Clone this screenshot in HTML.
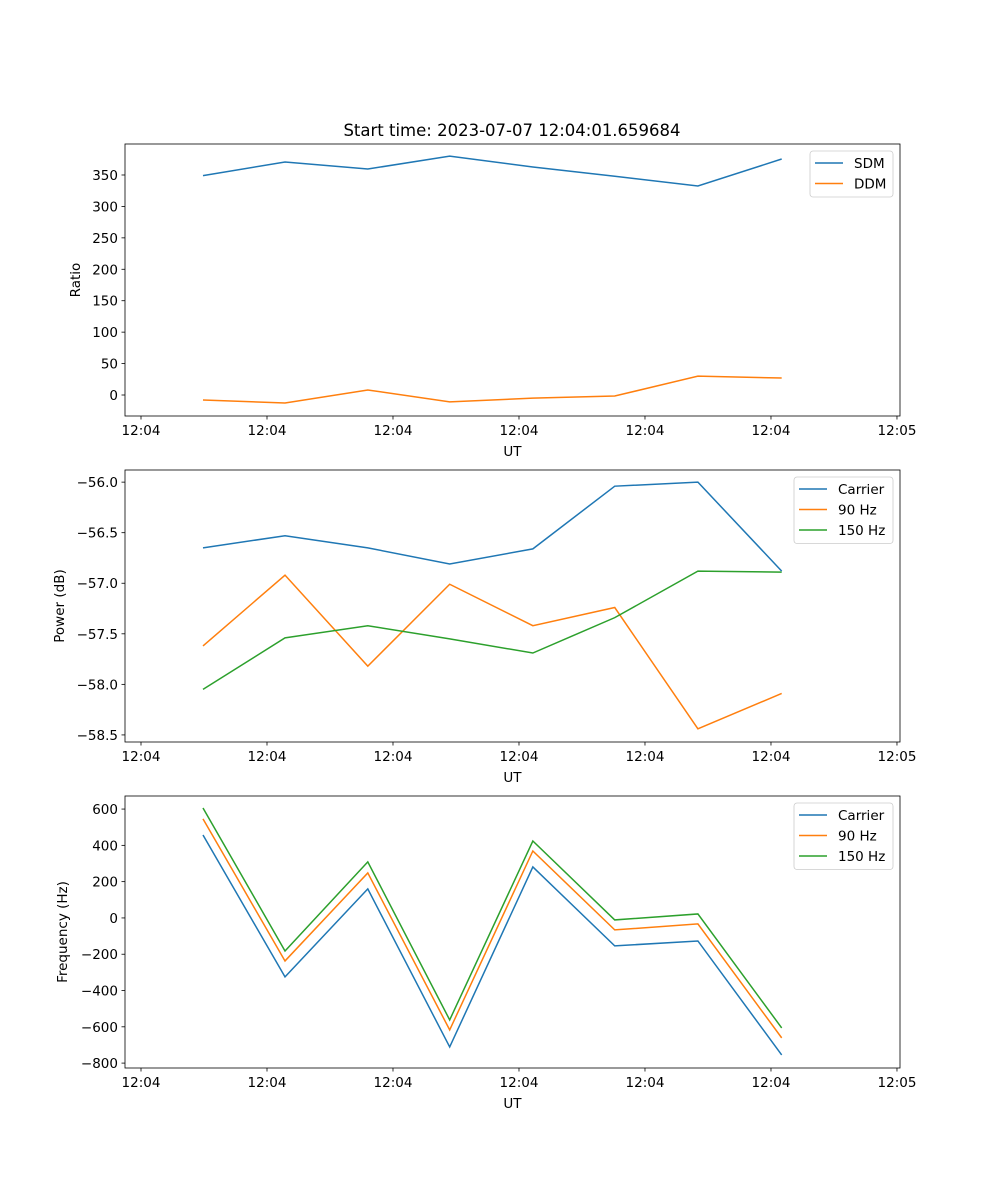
<!DOCTYPE html>
<html><head><meta charset="utf-8"><style>
body{margin:0;background:#fff;}
svg{display:block;font-family:"DejaVu Sans","Liberation Sans",sans-serif;}
</style></head><body>
<svg id="fig" width="1000" height="1200" viewBox="0 0 1000 1200"></svg>
<script>
const times = [4.92, 11.43, 18.0, 24.5, 31.1, 37.6, 44.2, 50.85];
const xTickVals = [0, 10, 20, 30, 40, 50, 60];
const xTickLabels = ["12:04","12:04","12:04","12:04","12:04","12:04","12:05"];
const sdm = [349, 370.7, 359.5, 380, 362.7, 348, 332.5, 375.4];
const ddm = [-8, -12.7, 8, -11, -5, -1.6, 30, 27];
const pCarrier = [-56.65, -56.53, -56.65, -56.81, -56.66, -56.04, -56.0, -56.88];
const p90 = [-57.62, -56.92, -57.82, -57.01, -57.42, -57.24, -58.44, -58.09];
const p150 = [-58.05, -57.54, -57.42, -57.55, -57.69, -57.34, -56.88, -56.89];
const fCarrier = [457, -325, 160, -711, 281, -154, -127, -755];
const f90 = [546, -237, 248, -617, 369, -66, -33, -661];
const f150 = [606, -182, 309, -562, 424, -11, 22, -606];
const ticks1 = [0, 50, 100, 150, 200, 250, 300, 350];
const ticks2 = [-58.5, -58.0, -57.5, -57.0, -56.5, -56.0];
const ticks3 = [-800, -600, -400, -200, 0, 200, 400, 600];

const NS = "http://www.w3.org/2000/svg";
const svg = document.getElementById('fig');
function el(tag, attrs, parent, text){
  const e = document.createElementNS(NS, tag);
  for (const k in attrs) e.setAttribute(k, attrs[k]);
  if (text !== undefined) e.textContent = text;
  (parent || svg).appendChild(e);
  return e;
}
const L = 125, R = 900, XMIN = -1.27, XMAX = 60.24;
const xs = v => L + (v - XMIN) / (XMAX - XMIN) * (R - L);
const C = ["#1f77b4", "#ff7f0e", "#2ca02c"];

function panel(name, top, ymin, ymax, yticks, fmt, ylabel, series, names, legendW, ylabelX){
  const bot = top + 272;
  const ys = v => bot - (v - ymin) / (ymax - ymin) * 272;
  const g = el('g', {});
  
  
  series.forEach((s, i) => {
    const p = el('polyline', {points: s.map((v, j) => xs(times[j]) + ',' + ys(v)).join(' '), fill: 'none', stroke: C[i], 'stroke-width': 1.5}, g);
    
    
  });
  const fr = el('rect', {x: L, y: top, width: R - L, height: 272, fill: 'none', stroke: '#000', 'stroke-width': 0.8}, g);
  
  
  xTickVals.forEach((t, i) => {
    const x = xs(t);
    el('line', {x1: x, x2: x, y1: bot, y2: bot + 3.5, stroke: '#000', 'stroke-width': 0.8}, g);
    const tx = el('text', {x: x, y: bot + 19, 'font-size': 13.5, 'text-anchor': 'middle'}, g, xTickLabels[i]);
    
    
  });
  yticks.forEach(t => {
    const y = ys(t);
    el('line', {x1: L, x2: L - 3.5, y1: y, y2: y, stroke: '#000', 'stroke-width': 0.8}, g);
    const tx = el('text', {x: L - 7, y: y + 5, 'font-size': 13.5, 'text-anchor': 'end'}, g, fmt(t));
    
    
  });
  const xl = el('text', {x: (L + R) / 2, y: bot + 40, 'font-size': 13.5, 'text-anchor': 'middle'}, g, 'UT');
  
  
  const yl = el('text', {x: ylabelX, y: top + 136, 'font-size': 13.5, 'text-anchor': 'middle', transform: `rotate(-90 ${ylabelX} ${top + 136})`}, g, ylabel);
  
  
  const lx = R - 7 - legendW, ly = top + 7;
  const lg = el('g', {}, g);
  
  
  el('rect', {x: lx, y: ly, width: legendW, height: 5 + names.length * 20.5, rx: 3, fill: '#fff', 'fill-opacity': 0.8, stroke: '#ccc', 'stroke-width': 0.8}, lg);
  names.forEach((n, i) => {
    const yy = ly + 12 + i * 20.5;
    el('line', {x1: lx + 5, x2: lx + 33, y1: yy, y2: yy, stroke: C[i], 'stroke-width': 1.5}, lg);
    const t = el('text', {x: lx + 44, y: yy + 5, 'font-size': 13.5}, lg, n);
    
    
  });
}
const title = el('text', {x: 512, y: 136, 'font-size': 16.5, 'text-anchor': 'middle'}, svg, 'Start time: 2023-07-07 12:04:01.659684');


const f0 = v => String(v), f1 = v => v.toFixed(1).replace('-', '\u2212'), fi = v => String(v).replace('-', '\u2212');
panel('ratio-panel', 144, -33.4, 399.3, ticks1, f0, 'Ratio', [sdm, ddm], ['SDM', 'DDM'], 83, 80);
panel('power-panel', 470, -58.57, -55.88, ticks2, f1, 'Power (dB)', [pCarrier, p90, p150], ['Carrier', '90 Hz', '150 Hz'], 99, 64);
panel('frequency-panel', 796, -827, 672, ticks3, fi, 'Frequency (Hz)', [fCarrier, f90, f150], ['Carrier', '90 Hz', '150 Hz'], 99, 67);
</script>
</body></html>
